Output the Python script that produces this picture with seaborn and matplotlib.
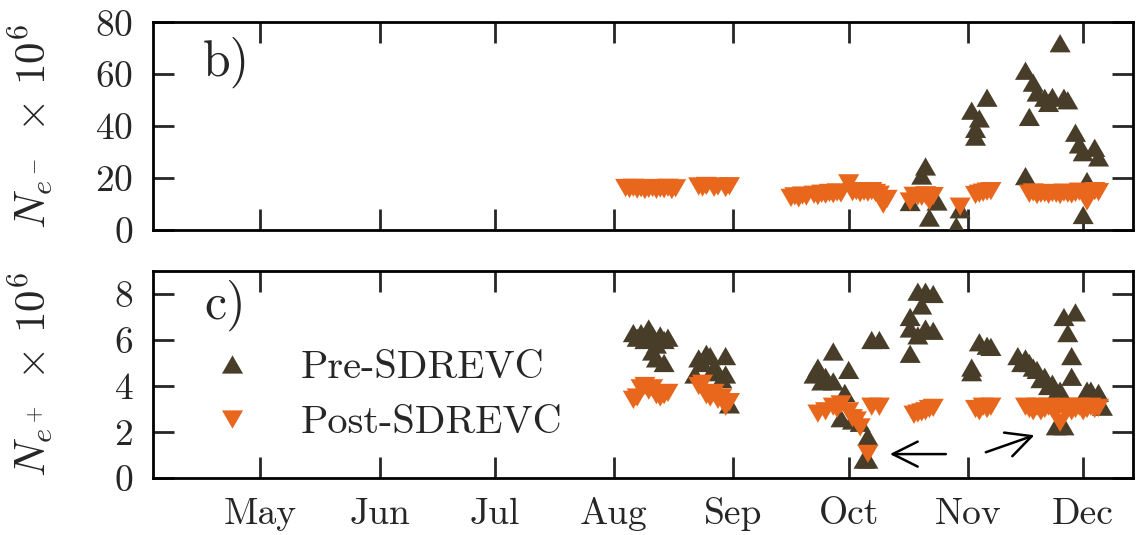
import matplotlib
matplotlib.use('Agg')
import matplotlib.pyplot as plt
import matplotlib.dates as mdates
import numpy as np
import pandas as pd
import seaborn as sns

YEAR = 2018

# panel b) N_e- x 10^6
elec_pre_dates = ['10-17', '10-20', '10-21', '10-22', '10-24', '10-29', '10-30',
                  '11-02', '11-03', '11-03', '11-04', '11-06',
                  '11-16', '11-16', '11-17', '11-18', '11-19', '11-21', '11-22',
                  '11-23', '11-25', '11-26', '11-27', '11-29', '11-30',
                  '12-01', '12-01', '12-02', '12-04', '12-05']
elec_pre_vals = [10.8, 21, 24.5, 4.8, 11, 1.5, 8,
                 46, 36, 39, 43, 51,
                 61.4, 20.8, 43.6, 56.8, 53, 51, 49,
                 51.3, 72, 51, 50, 37.5, 33,
                 5.8, 30, 18.9, 31.7, 28]

elec_post_dates = ['08-04', '08-05', '08-06', '08-07', '08-08', '08-09', '08-10',
                   '08-11', '08-12', '08-13', '08-14', '08-15', '08-16', '08-17',
                   '08-23', '08-24', '08-25', '08-27', '08-28', '08-30', '08-31',
                   '09-16', '09-17', '09-18', '09-19', '09-20', '09-22', '09-23',
                   '09-24', '09-25', '09-26', '09-27', '09-28', '09-29', '10-01',
                   '10-02', '10-03', '10-04', '10-05', '10-06', '10-07', '10-08',
                   '10-09', '10-10', '10-11',
                   '10-17', '10-18', '10-19', '10-20', '10-21', '10-22', '10-23',
                   '10-30',
                   '11-03', '11-04', '11-05', '11-06', '11-07',
                   '11-17', '11-18', '11-19', '11-20', '11-21', '11-22', '11-23',
                   '11-24', '11-25', '11-26', '11-27', '11-28', '11-29', '11-30',
                   '12-01', '12-02', '12-03', '12-04', '12-05']
elec_post_vals = [16.2, 15.8, 16.3, 15.6, 16.1, 15.4, 15.9,
                  16.2, 15.5, 16.0, 15.7, 16.3, 15.4, 16.1,
                  16.8, 16.4, 17.0, 16.3, 16.8, 16.2, 16.9,
                  12.4, 13.0, 12.2, 13.3, 12.9, 13.6, 13.1,
                  14.0, 13.6, 14.3, 13.8, 14.5, 14.1, 18.0,
                  14.6, 15.0, 14.2, 14.8, 14.4, 15.0, 14.3,
                  13.6, 9.8, 12.0,
                  11.0, 13.2, 13.0, 12.8, 13.4, 11.2, 13.1,
                  9.0,
                  13.5, 14.0, 14.4, 14.8, 15.0,
                  14.0, 14.5, 13.5, 14.0, 14.2, 13.6, 14.3,
                  14.0, 13.5, 14.4, 14.0, 13.7, 14.3, 14.8,
                  14.0, 11.0, 14.5, 15.0, 14.6]

# panel c) N_e+ x 10^6
posi_pre_dates = ['08-06', '08-07', '08-08', '08-09', '08-10', '08-11', '08-11',
                  '08-12', '08-12', '08-13', '08-14', '08-14', '08-15',
                  '08-22', '08-23', '08-24', '08-25', '08-26', '08-27', '08-28',
                  '08-29', '08-30', '08-30', '08-31',
                  '09-22', '09-23', '09-24', '09-25', '09-27', '09-27', '09-29',
                  '09-30', '10-01', '10-02', '10-04', '10-06', '10-05', '10-06',
                  '10-07', '10-09',
                  '10-17', '10-17', '10-17', '10-19', '10-19', '10-20', '10-21',
                  '10-21', '10-23', '10-23',
                  '11-02', '11-02', '11-04', '11-06', '11-07',
                  '11-14', '11-15', '11-16', '11-17', '11-18', '11-19', '11-20',
                  '11-21', '11-22', '11-23', '11-24', '11-25', '11-24', '11-26',
                  '11-26', '11-29', '11-27', '11-28', '11-28',
                  '12-02', '12-03', '12-05', '12-06']
posi_pre_vals = [6.3, 6.1, 6.3, 6.0, 6.5, 6.2, 5.5,
                 5.8, 5.2, 6.2, 5.0, 6.0, 6.1,
                 4.5, 5.2, 5.0, 5.4, 5.3, 4.8, 4.6,
                 4.3, 5.3, 4.5, 3.2,
                 4.5, 4.8, 4.2, 4.4, 5.5, 4.2, 2.6,
                 3.7, 4.7, 2.5, 2.4, 1.8, 0.8, 0.8,
                 6.0, 6.0,
                 7.0, 6.5, 5.4, 8.1, 6.2, 7.5, 8.1,
                 6.5, 8.0, 6.4,
                 4.8, 4.6, 5.9, 5.75, 5.7,
                 5.3, 5.0, 5.2, 5.0, 4.8, 4.7, 4.3,
                 4.4, 4.0, 4.1, 3.7, 3.8, 2.25, 2.25,
                 7.0, 7.2, 6.3, 5.3, 4.4,
                 3.8, 3.8, 3.7, 3.1]

posi_post_dates = ['08-06', '08-07', '08-08', '08-09', '08-10', '08-11', '08-12',
                   '08-13', '08-14', '08-15',
                   '08-23', '08-24', '08-25', '08-26', '08-27', '08-28', '08-29',
                   '08-30', '08-31',
                   '09-23', '09-25', '09-27', '09-28', '09-29', '10-01', '10-02',
                   '10-03', '10-04', '10-06', '10-07', '10-09',
                   '10-18', '10-19', '10-20', '10-21', '10-22', '10-23',
                   '11-03', '11-04', '11-05', '11-06', '11-07',
                   '11-16', '11-17', '11-18', '11-19', '11-20', '11-21', '11-22',
                   '11-23', '11-24', '11-25', '11-26', '11-27', '11-28', '11-29',
                   '11-30', '12-01', '12-02', '12-03', '12-04', '12-05']
posi_post_vals = [3.4, 3.5, 3.9, 4.0, 3.8, 3.9, 3.6,
                  3.5, 3.6, 3.7,
                  4.0, 4.1, 3.6, 3.5, 3.7, 3.4, 3.5,
                  3.1, 3.3,
                  2.8, 2.9, 3.1, 3.0, 3.2, 2.9, 2.6,
                  2.5, 2.2, 1.05, 3.1, 3.1,
                  2.75, 2.8, 2.85, 2.9, 3.0, 3.05,
                  3.0, 2.9, 3.1, 3.0, 3.1,
                  3.1, 3.0, 2.9, 3.1, 2.9, 3.0, 3.1,
                  3.0, 2.9, 2.4, 3.0, 3.1, 2.9, 3.0,
                  3.1, 2.9, 3.0, 3.1, 3.0, 3.05]

PRE, POST = 'Pre-SDREVC', 'Post-SDREVC'
colors = {PRE: '#483d29', POST: '#e8671c'}
# equilateral triangles
up = np.array([[-1, -0.866], [1, -0.866], [0, 0.866]])
down = np.array([[-1, 0.866], [1, 0.866], [0, -0.866]])
markers = {PRE: up, POST: down}


def make_df(pre_d, pre_v, post_d, post_v):
    pre = pd.DataFrame({'date': pd.to_datetime([f'{YEAR}-{d}' for d in pre_d]),
                        'val': pre_v, 'phase': PRE})
    post = pd.DataFrame({'date': pd.to_datetime([f'{YEAR}-{d}' for d in post_d]),
                         'val': post_v, 'phase': POST})
    return pd.concat([pre, post], ignore_index=True)


df_e = make_df(elec_pre_dates, elec_pre_vals, elec_post_dates, elec_post_vals)
df_p = make_df(posi_pre_dates, posi_pre_vals, posi_post_dates, posi_post_vals)

sns.set_theme(style='ticks')
plt.rcParams['font.family'] = ['cmr10']
plt.rcParams['mathtext.fontset'] = 'cm'
plt.rcParams['axes.formatter.use_mathtext'] = True

fig = plt.figure(figsize=(11.4, 5.35), dpi=100)
ax1 = fig.add_axes([0.134, 0.570, 0.860, 0.388])
ax2 = fig.add_axes([0.134, 0.1065, 0.860, 0.387])

for ax, df, show_leg in [(ax1, df_e, False), (ax2, df_p, True)]:
    sns.scatterplot(data=df, x='date', y='val', hue='phase', style='phase',
                    hue_order=[PRE, POST], style_order=[PRE, POST],
                    palette=colors, markers=markers, s=230, linewidth=0,
                    ax=ax, legend=show_leg, zorder=3)
    ax.set_xlim(pd.Timestamp(f'{YEAR}-04-03'), pd.Timestamp(f'{YEAR}-12-14'))
    ax.xaxis.set_major_locator(mdates.MonthLocator(bymonth=range(5, 13)))
    ax.xaxis.set_major_formatter(mdates.DateFormatter('%b'))
    ax.tick_params(direction='in', length=15, width=2, top=True, right=True,
                   labelsize=27, pad=14)
    for sp in ax.spines.values():
        sp.set_linewidth(2)
        sp.set_color('black')
    ax.set_xlabel('')
    ax.yaxis.set_label_coords(-0.099, 0.5)

ax1.set_ylim(0, 80)
ax1.set_yticks([0, 20, 40, 60, 80])
ax1.tick_params(labelbottom=False)
ax1.set_ylabel(r'$N_{e^-}\;\times\,10^6$', fontsize=31)
ax1.text(0.0755, 0.81, 'b)', transform=ax1.transAxes, fontsize=36,
         ha='center', va='center')

ax2.set_ylim(0, 9)
ax2.set_yticks([0, 2, 4, 6, 8])
ax2.set_ylabel(r'$N_{e^+}\;\times\,10^6$', fontsize=31)
ax2.text(0.0735, 0.836, 'c)', transform=ax2.transAxes, fontsize=36,
         ha='center', va='center')

handles, labels = ax2.get_legend_handles_labels()
ax2.legend(handles, labels, loc='upper left', bbox_to_anchor=(0.06, 0.62),
           frameon=False, fontsize=29, handlelength=1.0, handletextpad=1.2,
           labelspacing=0.47, borderpad=0, borderaxespad=0)

# arrows pointing at the low points
ax2.annotate('', xy=(mdates.date2num(pd.Timestamp(f'{YEAR}-10-11')), 1.04),
             xytext=(mdates.date2num(pd.Timestamp(f'{YEAR}-10-27')), 1.04),
             arrowprops=dict(arrowstyle='->', lw=1.8, color='black', mutation_scale=45))
ax2.annotate('', xy=(mdates.date2num(pd.Timestamp(f'{YEAR}-11-19')), 1.9),
             xytext=(mdates.date2num(pd.Timestamp(f'{YEAR}-11-05')), 1.08),
             arrowprops=dict(arrowstyle='->', lw=1.8, color='black', mutation_scale=45))

fig.savefig('out.png', dpi=100)
